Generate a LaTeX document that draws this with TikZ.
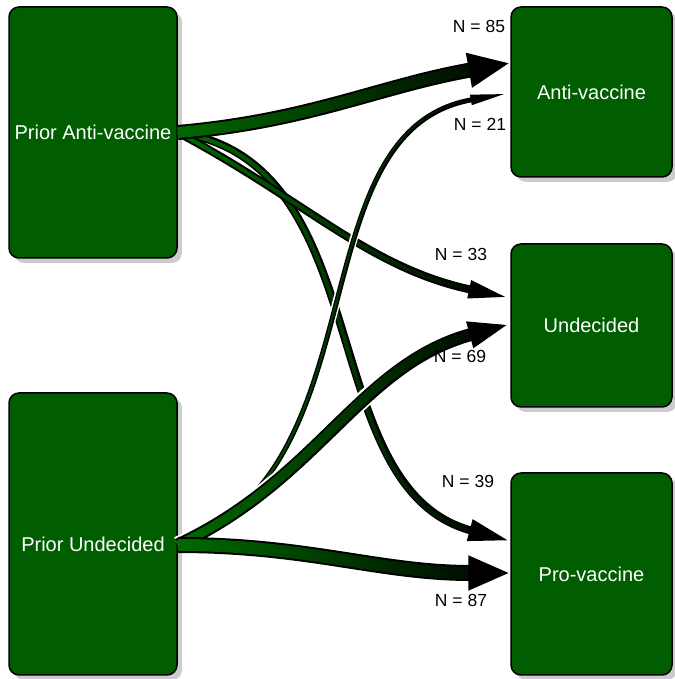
\documentclass[tikz,border=0pt]{standalone}
\usepackage{fontspec}
\setmainfont{Liberation Sans}
\usetikzlibrary{arrows.meta,shadows,fadings}

\definecolor{boxgreen}{RGB}{0,94,0}
\definecolor{flowgreen}{RGB}{0,108,0}
\tikzfading[name=flowfade, left color=transparent!0, middle color=transparent!8, right color=transparent!100]

\begin{document}
\begin{tikzpicture}[x=1pt, y=1pt, line join=round,
    stage/.style={draw=black, line width=1.5pt, fill=boxgreen, rounded corners=10pt, inner sep=0pt,
      text=white, font=\fontsize{20}{24}\selectfont,
      drop shadow={shadow xshift=5pt, shadow yshift=-5pt, fill=black!20, opacity=1}},
    count/.style={font=\fontsize{17.5}{21}\selectfont, inner sep=0pt},
    halo/.style={draw=white},
    rim/.style={draw=black},
    core/.style={draw=flowgreen, path fading=flowfade}]
  \useasboundingbox (0,0) rectangle (674,679);
  % Cot trai
  \node[stage, minimum width=168pt, minimum height=251pt] (pa) at (93,546.5) {Prior Anti-vaccine};
  \node[stage, minimum width=168pt, minimum height=282pt, text height=40pt, text depth=4pt] (pu) at (93,145) {Prior Undecided};
  \coordinate (pu out) at ([yshift=-11pt]pu.east);
  % Cot phai
  \node[stage, minimum width=161pt, minimum height=170pt] (av) at (591.5,587) {Anti-vaccine};
  \node[stage, minimum width=161pt, minimum height=163pt] (ud) at (591.5,353.5) {Undecided};
  \node[stage, minimum width=161pt, minimum height=202pt] (pv) at (591.5,105) {Pro-vaccine};
  % Tu Prior Anti-vaccine
  \draw[rim, line width=8pt, -{Triangle[length=42pt, width=20pt]}] (pa.east) to[out=-8, in=165] ([yshift=33pt]pv.west);
  \draw[core, line width=4pt, shorten >=42pt] (pa.east) to[out=-8, in=165] ([yshift=33pt]pv.west);
  \draw[rim, line width=8pt, -{Triangle[length=42pt, width=16pt]}] (pa.east) to[out=-28, in=168] ([yshift=27.5pt]ud.west);
  \draw[core, line width=4pt, shorten >=42pt] (pa.east) to[out=-28, in=168] ([yshift=27.5pt]ud.west);
  \draw[rim, line width=15pt, -{Triangle[length=42pt, width=32pt]}] (pa.east) to[out=5, in=190] ([yshift=29pt]av.west);
  \draw[core, line width=11pt, shorten >=42pt] (pa.east) to[out=5, in=190] ([yshift=29pt]av.west);
  % Tu Prior Undecided
  \draw[halo, line width=8pt, shorten >=40pt] (pu out) to[out=20, in=190] ([yshift=-1pt]av.west);
  \draw[rim, line width=5pt, -{Triangle[length=40pt, width=9pt]}] (pu out) to[out=20, in=190] ([yshift=-1pt]av.west);
  \draw[core, line width=2pt, shorten >=40pt] (pu out) to[out=20, in=190] ([yshift=-1pt]av.west);
  \draw[halo, line width=17pt, shorten >=42pt] (pu out) to[out=25, in=195] ([yshift=1.5pt]ud.west);
  \draw[rim, line width=13pt, -{Triangle[length=42pt, width=24pt]}] (pu out) to[out=25, in=195] ([yshift=1.5pt]ud.west);
  \draw[core, line width=9pt, shorten >=42pt] (pu out) to[out=25, in=195] ([yshift=1.5pt]ud.west);
  \draw[rim, line width=16pt, -{Triangle[length=42pt, width=32pt]}] (pu out) to[out=0, in=180] ([yshift=1pt]pv.west);
  \draw[core, line width=12pt, shorten >=42pt] (pu out) to[out=0, in=180] ([yshift=1pt]pv.west);
  % Nhan
  \node[count] (n85) at (479,653) {N = 85};
  \node[count] (n21) at (480,555) {N = 21};
  \node[count] (n33) at (461,425) {N = 33};
  \node[count] (n69) at (460,323) {N = 69};
  \node[count] (n39) at (468,198) {N = 39};
  \node[count] (n87) at (461,79) {N = 87};
\end{tikzpicture}
\end{document}
